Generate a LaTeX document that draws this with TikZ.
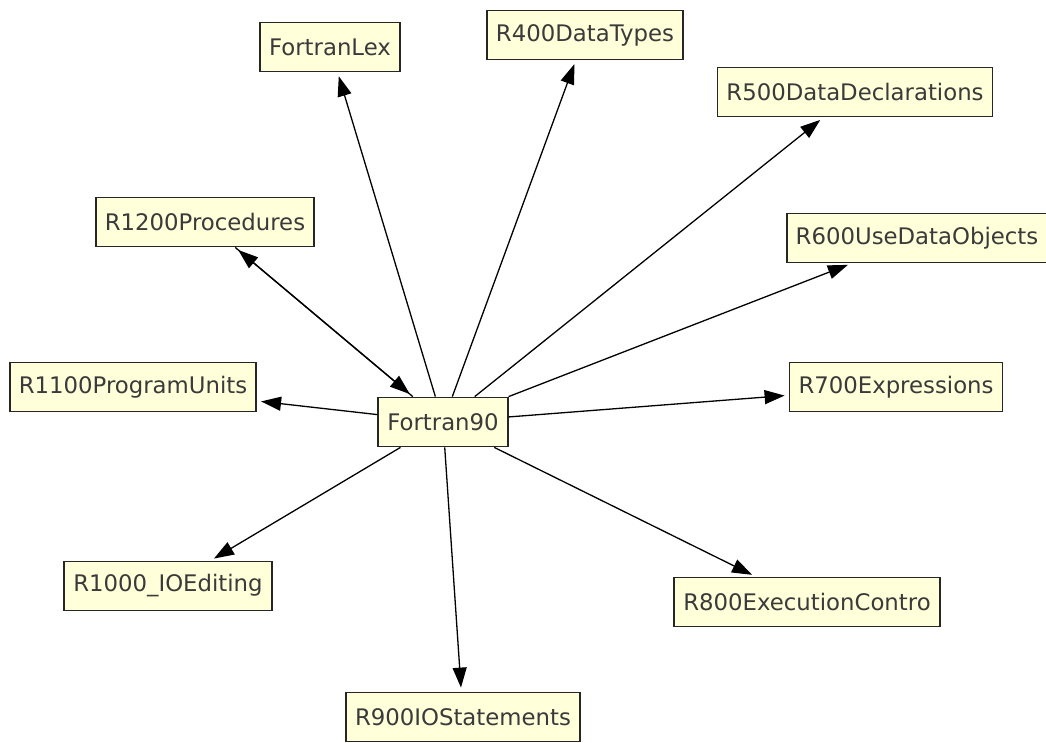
\documentclass[tikz,border=0pt]{standalone}
\usepackage{fontspec}
\setmainfont{DejaVu Sans}
\usetikzlibrary{arrows.meta}
\definecolor{notefill}{HTML}{FFFFDA}
\definecolor{notetext}{HTML}{3A3A3A}
\tikzstyle{module} = [draw=black!85, line width=1.8pt, fill=notefill, text=notetext, font=\fontsize{22.8}{26}\selectfont, minimum height=49pt, inner xsep=9pt]
\tikzstyle{root module} = [module]
\tikzstyle{edge} = [draw, line width=1.3pt, -{Triangle[length=20pt,width=14pt]}, shorten >=4pt]
\begin{document}
\begin{tikzpicture}[x=1pt, y=-1pt]
    \useasboundingbox (0,0) rectangle (1046,742);
    % Draw the modules
    % First the root module
    \node[root module] (Fortran90) at (443,422) {Fortran90};
    % Second the modules around it
    \foreach \pos/\name/\txt in {{(330,47)/FortranLex/FortranLex},
        {(585,35)/R400DataTypes/R400DataTypes},
        {(855,92)/R500DataDeclarations/R500DataDeclarations},
        {(917,238)/R600UseDataObjects/R600UseDataObjects},
        {(896,387)/R700Expressions/R700Expressions},
        {(807,602)/R800ExecutionContro/R800ExecutionContro},
        {(463,717)/R900IOStatements/R900IOStatements},
        {(168,586)/R1000IOEditing/R1000\_IOEditing},
        {(133,387)/R1100ProgramUnits/R1100ProgramUnits},
        {(205,222)/R1200Procedures/R1200Procedures}}
    \node[module] (\name) at \pos {\txt};
    % Connect modules with edges
    \foreach \dest in {FortranLex,R400DataTypes,R500DataDeclarations,
        R600UseDataObjects,R700Expressions,R800ExecutionContro,
        R900IOStatements,R1000IOEditing,R1100ProgramUnits,R1200Procedures}
    \path[edge] (Fortran90) -- (\dest);
    \path[edge] (R1200Procedures) -- (Fortran90);
\end{tikzpicture}
\end{document}
